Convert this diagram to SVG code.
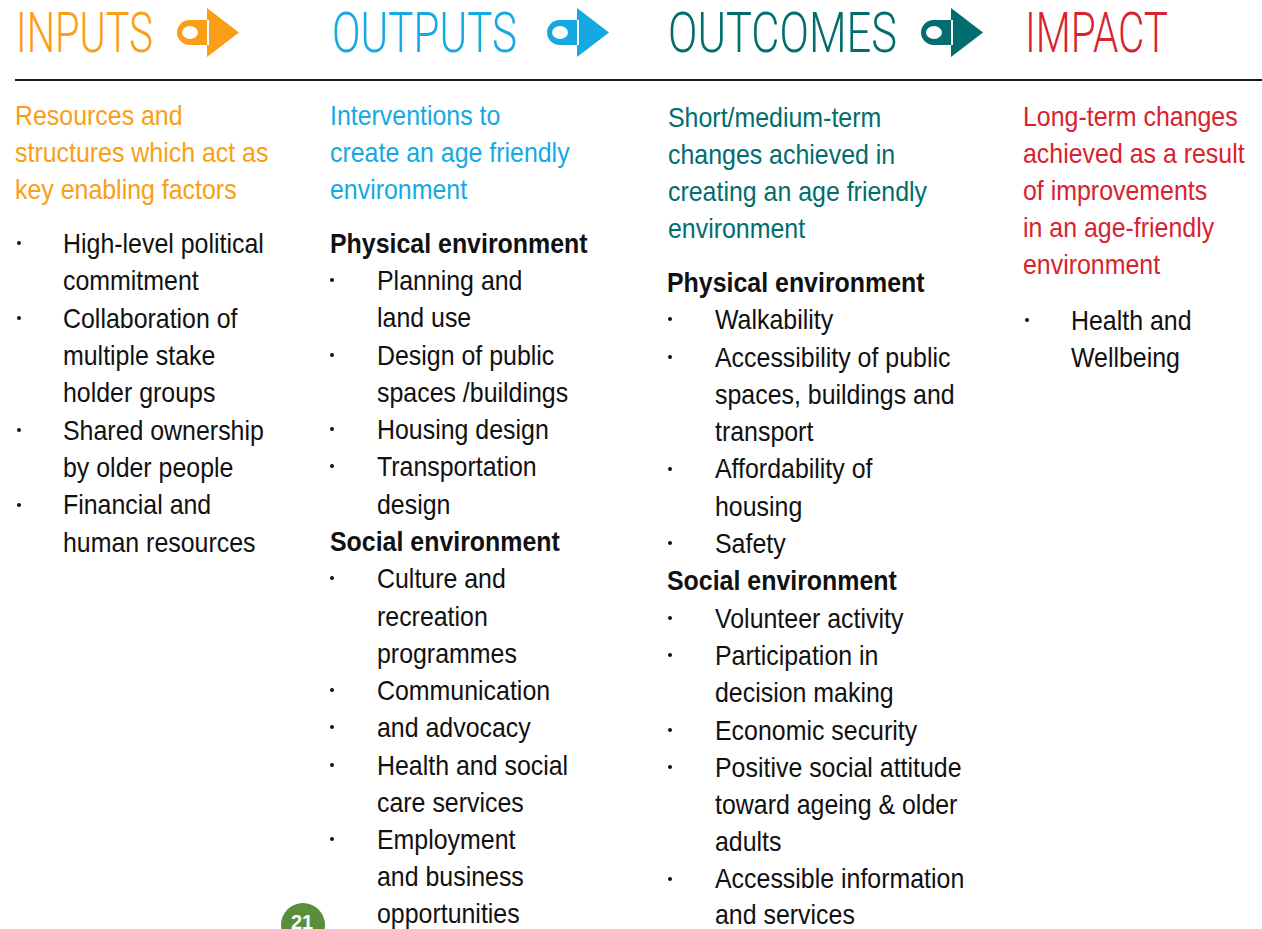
<svg xmlns="http://www.w3.org/2000/svg" width="1262" height="929" viewBox="0 0 1262 929">
<style>
.t{font-family:Roboto,"Liberation Sans",Arial,sans-serif;font-weight:300;font-size:56px}
.b{font-family:"Liberation Sans",Arial,sans-serif;font-size:28px;fill:#111}
.h{font-family:"Liberation Sans",Arial,sans-serif;font-size:28px;font-weight:bold;fill:#111}
.s{font-family:"Liberation Sans",Arial,sans-serif;font-size:28px}
.or{fill:#F99E16}.bl{fill:#14A9E2}.tl{fill:#006D6E}.rd{fill:#D7232E}
.dot{fill:#111}
</style>
<defs>
<path id="icon" fill-rule="evenodd" d="M189.5 20 H209 V45 H189.5 A12.5 12.5 0 0 1 189.5 20 Z M182 32.5 A8 6.5 0 1 0 198 32.5 A8 6.5 0 1 0 182 32.5 Z M207 8 L239 32.5 L207 57 Z"/>
</defs>
<rect width="1262" height="929" fill="#fff"/>
<line x1="15" y1="80" x2="1262" y2="80" stroke="#1a1a1a" stroke-width="2"/>

<g id="connectors">
<use href="#icon" class="or"/>
<use href="#icon" class="bl" transform="translate(370,0)"/>
<use href="#icon" class="tl" transform="translate(744,0)"/>
</g>

<g id="col-inputs">
<text class="t or" x="16" y="52" textLength="137" lengthAdjust="spacingAndGlyphs">INPUTS</text>
<g transform="translate(15,0) scale(0.89,1)" class="s or">
<text x="0" y="125">Resources and</text>
<text x="0" y="162">structures which act as</text>
<text x="0" y="199">key enabling factors</text>
</g>
<g class="dot">
<circle cx="19" cy="243" r="2"/><circle cx="19" cy="318" r="2"/><circle cx="19" cy="430" r="2"/><circle cx="19" cy="505" r="2"/>
</g>
<g transform="translate(63,0) scale(0.89,1)" class="b">
<text x="0" y="253">High-level political</text>
<text x="0" y="290">commitment</text>
<text x="0" y="328">Collaboration of</text>
<text x="0" y="365">multiple stake</text>
<text x="0" y="402">holder groups</text>
<text x="0" y="440">Shared ownership</text>
<text x="0" y="477">by older people</text>
<text x="0" y="514">Financial and</text>
<text x="0" y="552">human resources</text>
</g>
</g>

<g id="col-outputs">
<text class="t bl" x="332" y="52" textLength="185" lengthAdjust="spacingAndGlyphs">OUTPUTS</text>
<g transform="translate(330,0) scale(0.89,1)" class="s bl">
<text x="0" y="125">Interventions to</text>
<text x="0" y="162">create an age friendly</text>
<text x="0" y="199">environment</text>
</g>
<g transform="translate(330,0) scale(0.89,1)" class="h">
<text x="0" y="253">Physical environment</text>
<text x="0" y="551">Social environment</text>
</g>
<g class="dot">
<circle cx="332" cy="280" r="2"/><circle cx="332" cy="355" r="2"/><circle cx="332" cy="429" r="2"/><circle cx="332" cy="466" r="2"/>
<circle cx="332" cy="578" r="2"/><circle cx="332" cy="690" r="2"/><circle cx="332" cy="727" r="2"/><circle cx="332" cy="765" r="2"/><circle cx="332" cy="839" r="2"/>
</g>
<g transform="translate(377,0) scale(0.89,1)" class="b">
<text x="0" y="290">Planning and</text>
<text x="0" y="327">land use</text>
<text x="0" y="365">Design of public</text>
<text x="0" y="402">spaces /buildings</text>
<text x="0" y="439">Housing design</text>
<text x="0" y="476">Transportation</text>
<text x="0" y="514">design</text>
<text x="0" y="588">Culture and</text>
<text x="0" y="626">recreation</text>
<text x="0" y="663">programmes</text>
<text x="0" y="700">Communication</text>
<text x="0" y="737">and advocacy</text>
<text x="0" y="775">Health and social</text>
<text x="0" y="812">care services</text>
<text x="0" y="849">Employment</text>
<text x="0" y="886">and business</text>
<text x="0" y="923">opportunities</text>
</g>
</g>

<g id="col-outcomes">
<text class="t tl" x="668" y="52" textLength="229" lengthAdjust="spacingAndGlyphs">OUTCOMES</text>
<g transform="translate(668,0) scale(0.89,1)" class="s tl">
<text x="0" y="127">Short/medium-term</text>
<text x="0" y="164">changes achieved in</text>
<text x="0" y="201">creating an age friendly</text>
<text x="0" y="238">environment</text>
</g>
<g transform="translate(667,0) scale(0.89,1)" class="h">
<text x="0" y="292">Physical environment</text>
<text x="0" y="590">Social environment</text>
</g>
<g class="dot">
<circle cx="670" cy="319" r="2"/><circle cx="670" cy="357" r="2"/><circle cx="670" cy="469" r="2"/><circle cx="670" cy="543" r="2"/>
<circle cx="670" cy="618" r="2"/><circle cx="670" cy="655" r="2"/><circle cx="670" cy="730" r="2"/><circle cx="670" cy="767" r="2"/><circle cx="670" cy="879" r="2"/>
</g>
<g transform="translate(715,0) scale(0.89,1)" class="b">
<text x="0" y="329">Walkability</text>
<text x="0" y="367">Accessibility of public</text>
<text x="0" y="404">spaces, buildings and</text>
<text x="0" y="441">transport</text>
<text x="0" y="478">Affordability of</text>
<text x="0" y="516">housing</text>
<text x="0" y="553">Safety</text>
<text x="0" y="628">Volunteer activity</text>
<text x="0" y="665">Participation in</text>
<text x="0" y="702">decision making</text>
<text x="0" y="740">Economic security</text>
<text x="0" y="777">Positive social attitude</text>
<text x="0" y="814">toward ageing &amp; older</text>
<text x="0" y="851">adults</text>
<text x="0" y="888">Accessible information</text>
<text x="0" y="924">and services</text>
</g>
</g>

<g id="col-impact">
<text class="t rd" x="1025" y="52" textLength="143" lengthAdjust="spacingAndGlyphs">IMPACT</text>
<g transform="translate(1023,0) scale(0.89,1)" class="s rd">
<text x="0" y="126">Long-term changes</text>
<text x="0" y="163">achieved as a result</text>
<text x="0" y="200">of improvements</text>
<text x="0" y="237">in an age-friendly</text>
<text x="0" y="274">environment</text>
</g>
<circle class="dot" cx="1027" cy="320" r="2"/>
<g transform="translate(1071,0) scale(0.89,1)" class="b">
<text x="0" y="330">Health and</text>
<text x="0" y="367">Wellbeing</text>
</g>
</g>

<g id="page-number">
<circle cx="303" cy="925" r="22" fill="#5A8E3A"/>
<text x="302" y="929" text-anchor="middle" font-family="'Liberation Sans',Arial,sans-serif" font-size="20" font-weight="bold" fill="#fff">21</text>
</g>
</svg>
